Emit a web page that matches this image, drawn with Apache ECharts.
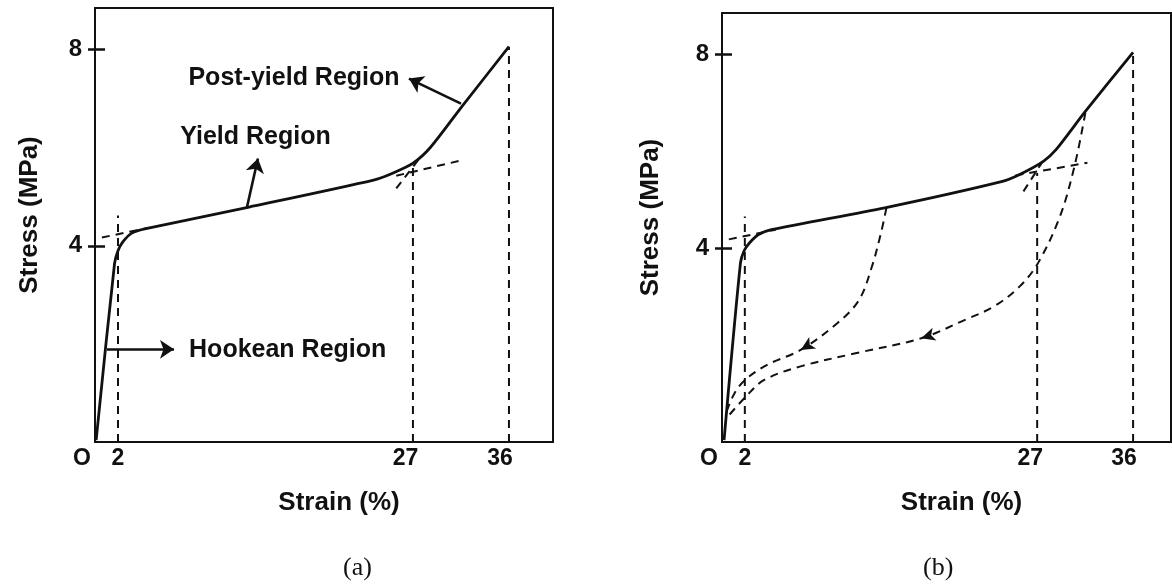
<!DOCTYPE html>
<html>
<head>
<meta charset="utf-8">
<script src="https://cdn.jsdelivr.net/npm/echarts@6/dist/echarts.min.js"></script>
<style>
html,body{margin:0;padding:0;background:#fff;}
#chart{width:1172px;height:585px;}
</style>
</head>
<body>
<div id="chart"></div>
<script>
// ---------- data ----------
const X_LABELS = [0, 2, 27, 36];
const Y_TICKS = [4, 8];

// panel (a) stress-strain curve (strain %, stress MPa)
const curveA = [[0.1,0.04],[1.7,3.64],[2.0,3.9],[2.42,4.08],[3.2,4.26],[4.43,4.35],[13.4,4.79],[24.23,5.34],[25.78,5.47],[27.63,5.68],[29.18,6.01],[31.97,6.86],[36,8.06]];
// panel (b) stress-strain curve
const curveB = [[0.18,0.04],[1.62,3.7],[1.95,3.95],[2.42,4.11],[3.2,4.28],[4.33,4.38],[14.25,4.83],[24.47,5.37],[26.07,5.52],[28.14,5.79],[29.25,6.03],[31.82,6.82],[36,8.04]];

// dashed guide segments
const dashedA = [
  [[2,0],[2,4.62]],
  [[0.6,4.17],[4.7,4.37]],
  [[27.65,0],[27.65,5.6]],
  [[26.2,5.43],[32.0,5.75]],
  [[26.2,5.17],[28.4,5.84]],
  [[36,0],[36,8.06]]
];
const dashedB = [
  [[2,0],[2,4.65]],
  [[0.6,4.18],[4.7,4.38]],
  [[27.6,0],[27.6,5.55]],
  [[25.7,5.5],[32.0,5.76]],
  [[26.4,5.17],[28.2,5.83]],
  [[36,0],[36,8.04]]
];

// panel (b) unloading curves
const unloadB1 = [[14.4,4.83],[13.92,4.31],[13.13,3.62],[12.0,2.93],[10.09,2.45],[6.89,1.9],[3.7,1.56],[1.46,1.14],[0.34,0.59]];
const unloadB2 = [[31.82,6.79],[30.87,5.69],[29.59,4.65],[27.67,3.69],[26.07,3.21],[23.84,2.8],[21.28,2.52],[17.44,2.14],[11.69,1.83],[6.89,1.56],[3.7,1.28],[2.1,0.94],[0.5,0.52]];
const arrowHeadsB = [[6.89,1.9],[17.44,2.14]];

// panel (a) annotations: label, label anchor, arrow from, arrow to
const annLabels = ['Post-yield Region', 'Yield Region', 'Hookean Region'];
const annTextAt = [[17.35,7.41],[14.0,6.21],[16.8,1.87]];
const annArrowFrom = [[31.83,6.9],[13.2,4.77],[1.04,1.89]];
const annArrowTo = [[27.3,7.41],[14.17,5.78],[6.87,1.89]];

// ---------- chart ----------
const FONT = '"Liberation Sans", Arial, sans-serif';
const INK = '#111';
const chart = echarts.init(document.getElementById('chart'), null, {renderer:'canvas'});

function xAxisCfg(gi, max){
  const t = {fontFamily:FONT, fontWeight:'bold', fontSize:23, color:INK};
  return {
    type:'value', gridIndex:gi, min:0, max:max,
    axisLine:{show:false}, axisTick:{show:false}, splitLine:{show:false},
    axisLabel:Object.assign({
      customValues:X_LABELS, margin:5,
      formatter:v => v===0 ? '{o|O}' : (v===36 ? '{s|36}' : String(v)),
      rich:{
        o:Object.assign({padding:[0,26,0,0]}, t),
        s:Object.assign({padding:[0,18,0,0]}, t)
      }
    }, t),
    name:'Strain (%)', nameLocation:'middle', nameGap:48,
    nameTextStyle:{fontFamily:FONT, fontWeight:'bold', fontSize:26, color:INK, padding:[0,0,0,30]}
  };
}
function yAxisOuter(gi, gap){
  return {
    type:'value', gridIndex:gi, position:'left', min:0, max:8.85,
    axisLine:{show:false}, splitLine:{show:false},
    axisTick:{show:true, customValues:Y_TICKS, length:7, lineStyle:{color:INK, width:2.5}},
    axisLabel:{customValues:Y_TICKS, margin:13, color:INK, fontFamily:FONT, fontWeight:'bold', fontSize:24},
    name:'Stress (MPa)', nameLocation:'middle', nameGap:gap, nameRotate:90,
    nameTextStyle:{fontFamily:FONT, fontWeight:'bold', fontSize:26, color:INK, padding:[0,0,0,20]}
  };
}
function yAxisInner(gi){
  return {
    type:'value', gridIndex:gi, position:'left', offset:0, min:0, max:8.85,
    axisLine:{show:false}, splitLine:{show:false}, axisLabel:{show:false},
    axisTick:{show:true, inside:true, customValues:Y_TICKS, length:10, lineStyle:{color:INK, width:2.5}}
  };
}

const series = [];
function solid(data, xi, yi){
  series.push({type:'line', xAxisIndex:xi, yAxisIndex:yi, data:data, symbol:'none', smooth:0.25,
    lineStyle:{color:INK, width:2.8}, silent:true, z:5});
}
function dashed(data, xi, yi, sm){
  series.push({type:'line', xAxisIndex:xi, yAxisIndex:yi, data:data, symbol:'none', smooth:sm||0,
    lineStyle:{color:INK, width:2, type:[8,6]}, silent:true, z:4});
}
solid(curveA, 0, 0);
dashedA.forEach(s => dashed(s, 0, 0));
solid(curveB, 1, 2);
dashedB.forEach(s => dashed(s, 1, 2));
dashed(unloadB1, 1, 2, 0.35);
dashed(unloadB2, 1, 2, 0.35);

// arrowheads on unloading curves
series.push({type:'scatter', xAxisIndex:1, yAxisIndex:2, data:[arrowHeadsB[0]], symbol:'arrow', symbolSize:[10,14], symbolRotate:121, itemStyle:{color:INK, opacity:1}, z:6, silent:true});
series.push({type:'scatter', xAxisIndex:1, yAxisIndex:2, data:[arrowHeadsB[1]], symbol:'arrow', symbolSize:[10,14], symbolRotate:107, itemStyle:{color:INK, opacity:1}, z:6, silent:true});

// annotation arrows (a)
series.push({type:'lines', coordinateSystem:'cartesian2d', xAxisIndex:0, yAxisIndex:0,
  data: annArrowFrom.map((f,i) => ({coords:[f, annArrowTo[i]]})),
  symbol:['none','arrow'], symbolSize:14, lineStyle:{color:INK, width:2.6, opacity:1, curveness:0}, z:6, silent:true});
// annotation text (a)
series.push({type:'scatter', xAxisIndex:0, yAxisIndex:0, symbolSize:1, itemStyle:{opacity:0}, silent:true, z:7,
  data: annTextAt.map((p,i) => ({value:p, name:annLabels[i]})),
  label:{show:true, position:[0,0], align:'center', verticalAlign:'middle', formatter:p => p.name,
    color:INK, opacity:1, fontFamily:FONT, fontWeight:'bold', fontSize:25}});

chart.setOption({
  animation:false,
  backgroundColor:'#fff',
  grid:[
    {left:95, top:8, width:458, height:434, show:true, borderColor:INK, borderWidth:2, backgroundColor:'transparent'},
    {left:722, top:13, width:449, height:429, show:true, borderColor:INK, borderWidth:2, backgroundColor:'transparent'}
  ],
  xAxis:[xAxisCfg(0, 39.83), xAxisCfg(1, 39.32)],
  yAxis:[yAxisOuter(0, 52), yAxisInner(0), yAxisOuter(1, 58), yAxisInner(1)],
  graphic:[
    {type:'text', left:343, top:555, style:{text:'(a)', font:'26px "Liberation Serif"', fill:INK}},
    {type:'text', left:923, top:555, style:{text:'(b)', font:'26px "Liberation Serif"', fill:INK}}
  ],
  series:series
});
</script>
</body>
</html>
